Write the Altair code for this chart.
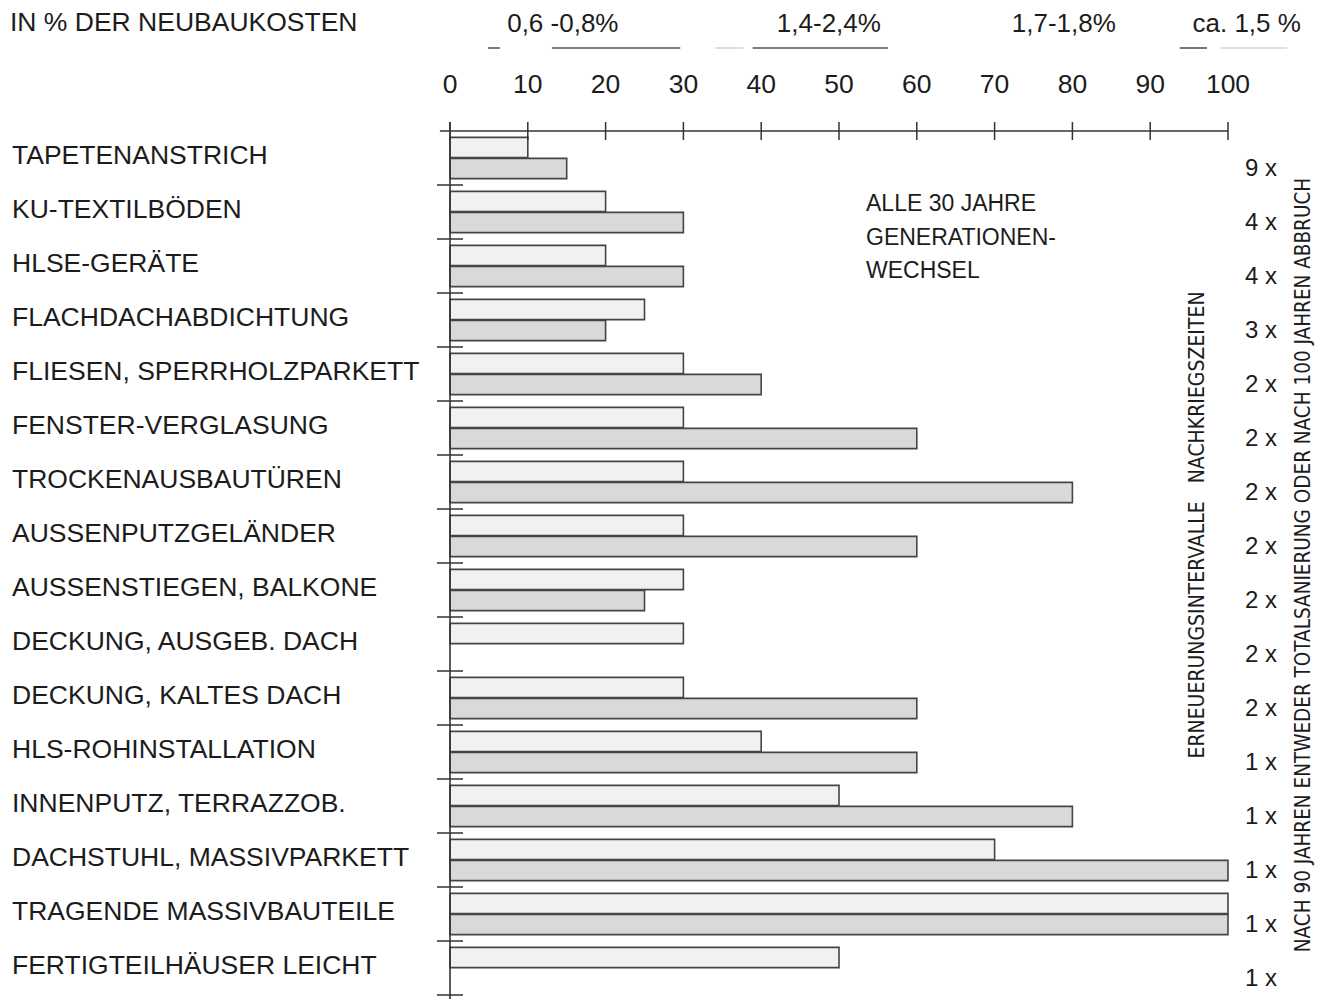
import altair as alt
import pandas as pd

categories = [
    "TAPETENANSTRICH", "KU-TEXTILBÖDEN", "HLSE-GERÄTE", "FLACHDACHABDICHTUNG",
    "FLIESEN, SPERRHOLZPARKETT", "FENSTER-VERGLASUNG", "TROCKENAUSBAUTÜREN",
    "AUSSENPUTZGELÄNDER", "AUSSENSTIEGEN, BALKONE", "DECKUNG, AUSGEB. DACH",
    "DECKUNG, KALTES DACH", "HLS-ROHINSTALLATION", "INNENPUTZ, TERRAZZOB.",
    "DACHSTUHL, MASSIVPARKETT", "TRAGENDE MASSIVBAUTEILE", "FERTIGTEILHÄUSER LEICHT",
]
upper = [10, 20, 20, 25, 30, 30, 30, 30, 30, 30, 30, 40, 50, 70, 100, 50]
lower = [15, 30, 30, 20, 40, 60, 80, 60, 25, None, 60, 60, 80, 100, 100, None]
multipliers = ["9 x", "4 x", "4 x", "3 x", "2 x", "2 x", "2 x", "2 x", "2 x", "2 x",
               "2 x", "1 x", "1 x", "1 x", "1 x", "1 x"]
tick_values = [0, 10, 20, 30, 40, 50, 60, 70, 80, 90, 100]
cost_labels = ["0,6 -0,8%", "1,4-2,4%", "1,7-1,8%", "ca. 1,5 %"]
cost_pos = [14.5, 48.7, 78.9, 102.4]
underline_start = [4.9, 13.1, 34.1, 38.9, 93.8, 99.0]
underline_end = [6.4, 29.6, 37.7, 56.3, 97.3, 107.6]
underline_tone = ["dark", "dark", "faint", "dark", "dark", "faint"]
axis_start, axis_end = -1.3, 100

header = "IN % DER NEUBAUKOSTEN"
note_lines = ["ALLE 30 JAHRE", "GENERATIONEN-", "WECHSEL"]
side_text_1 = "ERNEUERUNGSINTERVALLE\u00a0\u00a0\u00a0NACHKRIEGSZEITEN"
side_text_2 = "NACH 90 JAHREN ENTWEDER TOTALSANIERUNG ODER NACH 100 JAHREN ABBRUCH"

FONT = "Liberation Sans, Arial, Helvetica, sans-serif"
NARROW = "Liberation Sans Narrow, Arial Narrow, DejaVu Sans Condensed, Liberation Sans, sans-serif"
INK = "#1c1c1c"
LINE = "#333333"

rows = []
for c, u, l in zip(categories, upper, lower):
    rows.append({"cat": c, "series": "a", "value": u})
    if l is not None:
        rows.append({"cat": c, "series": "b", "value": l})
bars_df = pd.DataFrame(rows)
cat_df = pd.DataFrame({"cat": categories, "mult": multipliers})
tick_df = pd.DataFrame({"tick": tick_values, "label": [str(t) for t in tick_values]})
cost_df = pd.DataFrame({"label": cost_labels, "pos": cost_pos})
ul_df = pd.DataFrame({"s": underline_start, "e": underline_end, "tone": underline_tone})
axis_df = pd.DataFrame({"s": [axis_start], "e": [axis_end], "zero": [0]})
one = pd.DataFrame({"t": [0]})

xs = alt.Scale(domain=[0, 100], nice=False, zero=True)
ys = alt.Scale(domain=categories, paddingInner=0, paddingOuter=0)

bars = alt.Chart(bars_df).mark_bar(stroke="#454545", strokeWidth=1.6).encode(
    x=alt.X("value:Q", scale=xs, axis=None),
    y=alt.Y("cat:N", scale=ys, sort=categories, axis=None),
    yOffset=alt.YOffset("series:N", scale=alt.Scale(domain=["a", "b"], paddingInner=0.04, paddingOuter=0.3)),
    color=alt.Color("series:N", scale=alt.Scale(domain=["a", "b"], range=["#f1f1f1", "#d9d9d9"]), legend=None),
)

# axis lines
top_line = alt.Chart(axis_df).mark_rule(color=LINE, strokeWidth=1.6).encode(
    x=alt.X("s:Q", scale=xs, axis=None), x2="e:Q", y=alt.value(0))
left_line = alt.Chart(axis_df).mark_rule(color=LINE, strokeWidth=1.6).encode(
    x=alt.X("zero:Q", scale=xs, axis=None), y=alt.value(-9), y2=alt.value(868))

xticks = alt.Chart(tick_df).mark_rule(color=LINE, strokeWidth=1.5).encode(
    x=alt.X("tick:Q", scale=xs, axis=None),
    y=alt.value(-9), y2=alt.value(9),
)

xlabels = alt.Chart(tick_df).mark_text(font=FONT, fontSize=26.5, color=INK, baseline="alphabetic").encode(
    x=alt.X("tick:Q", scale=xs, axis=None),
    y=alt.value(-38),
    text="label:N",
)

row_ticks = alt.Chart(cat_df).mark_rule(color=LINE, strokeWidth=1.5).encode(
    y=alt.Y("cat:N", scale=ys, sort=categories, axis=None, bandPosition=1),
    x=alt.value(-13), x2=alt.value(13),
)

cat_labels = alt.Chart(cat_df).mark_text(font=FONT, fontSize=26.5, color=INK, align="left",
                                         baseline="alphabetic", dy=6).encode(
    y=alt.Y("cat:N", scale=ys, sort=categories, axis=None),
    x=alt.value(-438),
    text="cat:N",
)

mult_labels = alt.Chart(cat_df).mark_text(font=FONT, fontSize=24, color=INK, align="left",
                                          baseline="alphabetic", dy=18).encode(
    y=alt.Y("cat:N", scale=ys, sort=categories, axis=None),
    x=alt.value(795),
    text="mult:N",
)

cost_text = alt.Chart(cost_df).mark_text(font=FONT, fontSize=26, color=INK, baseline="alphabetic").encode(
    x=alt.X("pos:Q", scale=xs, axis=None),
    y=alt.value(-99),
    text="label:N",
)

underlines = alt.Chart(ul_df).mark_rule(strokeWidth=1.6).encode(
    x=alt.X("s:Q", scale=xs, axis=None),
    x2="e:Q",
    y=alt.value(-83),
    color=alt.Color("tone:N", scale=alt.Scale(domain=["dark", "faint"], range=["#555555", "#d6d6d6"]), legend=None),
)

header_text = alt.Chart(pd.DataFrame({"t": [header]})).mark_text(
    font=FONT, fontSize=26.5, color=INK, align="left", baseline="alphabetic").encode(
    x=alt.value(-440), y=alt.value(-100), text="t:N")

note = alt.Chart(one).mark_text(
    font=FONT, fontSize=23, color=INK, align="left", baseline="alphabetic", lineHeight=33.5).encode(
    x=alt.value(416), y=alt.value(80), text=alt.value(note_lines))

side1 = alt.Chart(pd.DataFrame({"t": [side_text_1]})).mark_text(
    font=NARROW, fontSize=21, color=INK, angle=270, align="center", baseline="middle").encode(
    x=alt.value(748), y=alt.value(394), text="t:N")

side2 = alt.Chart(pd.DataFrame({"t": [side_text_2]})).mark_text(
    font=NARROW, fontSize=20.5, color=INK, angle=270, align="center", baseline="middle").encode(
    x=alt.value(854), y=alt.value(434), text="t:N")

chart = alt.layer(
    bars, top_line, left_line, xticks, xlabels, row_ticks, cat_labels, mult_labels,
    cost_text, underlines, header_text, note, side1, side2,
).resolve_scale(color="independent").properties(
    width=778, height=864,
    padding={"left": 442, "top": 123, "right": 93, "bottom": 5},
    autosize=alt.AutoSizeParams(type="none"),
    background="white",
).configure_view(stroke=None)

chart.save("out.html", embed_options={"renderer": "svg", "actions": False})
